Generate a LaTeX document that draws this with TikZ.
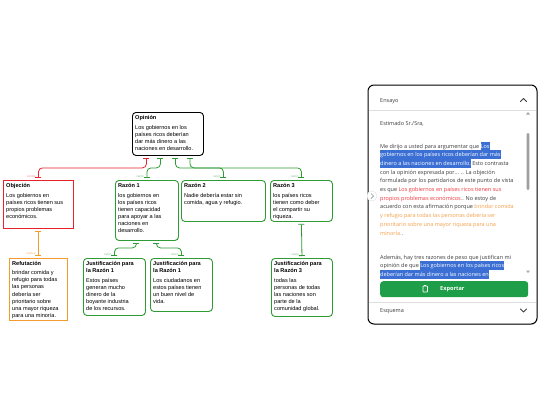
\documentclass[tikz,border=0pt]{standalone}
\usepackage{fontspec}
\setmainfont{Liberation Sans}
\newfontfamily\panelfont{Open Sans}
\usetikzlibrary{arrows.meta,shadows}

\definecolor{mmgreen}{HTML}{2E9B34}
\definecolor{mmred}{HTML}{E8222B}
\definecolor{mmorange}{HTML}{F59A2C}
\definecolor{hlblue}{HTML}{3B6FD4}
\definecolor{txtred}{HTML}{F0383C}
\definecolor{txtorange}{HTML}{F5A04A}
\definecolor{btngreen}{HTML}{1E9E48}
\definecolor{paneltext}{HTML}{3C3C3C}

% highlighted (selected) text span in the essay panel
\newcommand\hlspan[1]{{\setlength\fboxsep{0pt}\colorbox{hlblue}{\rule[-2.4pt]{0pt}{8.7pt}\textcolor{white}{#1}}}}

\tikzset{
  box/.style={draw, line width=0.9pt, inner sep=0pt, anchor=north west},
  rbox/.style={box, rounded corners=3.5pt},
  gbox/.style={rbox, draw=mmgreen},
  mmtext/.style={anchor=north west, inner sep=0pt, align=left,
    font=\fontsize{5.6}{7}\selectfont},
  link/.style={line width=0.8pt, rounded corners=4pt,
    arrows={Bar[width=6pt,line width=0.8pt]-Bar[width=6pt,line width=0.8pt]}},
  lbl/.style={anchor=south east, inner sep=0pt, xshift=-2.5pt,
    font=\fontsize{3}{3}\selectfont},
  ptext/.style={anchor=base west, inner sep=0pt, text=paneltext,
    font=\panelfont\fontsize{5.5}{8.7}\selectfont},
}

\begin{document}
\begin{tikzpicture}[x=1pt,y=-1pt]
\fill[white] (0,0) rectangle (540,405);
\useasboundingbox (0,0) rectangle (540,405);

% ---------- argument map boxes ----------
\node[rbox, minimum width=71pt, minimum height=43pt] (op) at (132,112) {};
\node[mmtext] (opt) at (135,115) {\textbf{Opinión}\\[3pt]Los gobiernos en los\\países ricos deberían\\dar más dinero a las\\naciones en desarrollo.};

\node[box, draw=mmred, minimum width=70pt, minimum height=48pt] (obj) at (3,180) {};
\node[mmtext] (objt) at (6,183) {\textbf{Objeción}\\[3pt]Los gobiernos en\\países ricos tienen sus\\propios problemas\\económicos.};

\node[box, draw=mmorange, minimum width=58pt, minimum height=62pt] (ref) at (9,258) {};
\node[mmtext, font=\fontsize{5.6}{7.2}\selectfont] (reft) at (12,261) {\textbf{Refutación}\\[2pt]brindar comida y\\refugio para todas\\las personas\\debería ser\\prioritario sobre\\una mayor riqueza\\para una minoría.};

\node[gbox, minimum width=63pt, minimum height=60pt] (r1) at (115,180) {};
\node[mmtext] (r1t) at (118,183) {\textbf{Razón 1}\\[3pt]los gobiernos en\\los países ricos\\tienen capacidad\\para apoyar a las\\naciones en\\desarrollo.};

\node[gbox, minimum width=84pt, minimum height=41pt] (r2) at (181,180) {};
\node[mmtext] (r2t) at (184,183) {\textbf{Razón 2}\\[3pt]Nadie debería estar sin\\comida, agua y refugio.};

\node[gbox, minimum width=62pt, minimum height=41pt] (r3) at (270,180) {};
\node[mmtext] (r3t) at (273,183) {\textbf{Razón 3}\\[3pt]los países ricos\\tienen como deber\\el compartir su\\riqueza.};

\node[gbox, minimum width=62pt, minimum height=57pt] (j1a) at (83,258) {};
\node[mmtext] (j1at) at (86,261) {\textbf{Justificación para}\\\textbf{la Razón 1}\\[3pt]Estos países\\generan mucho\\dinero de la\\boyante industria\\de los recursos.};

\node[gbox, minimum width=62pt, minimum height=53pt] (j1b) at (150,258) {};
\node[mmtext] (j1bt) at (153,261) {\textbf{Justificación para}\\\textbf{la Razón 1}\\[3pt]Los ciudadanos en\\estos países tienen\\un buen nivel de\\vida.};

\node[gbox, minimum width=61pt, minimum height=58pt] (j3) at (271,258) {};
\node[mmtext] (j3t) at (274,261) {\textbf{Justificación para}\\\textbf{la Razón 3}\\[3pt]todas las\\personas de todas\\las naciones son\\parte de la\\comunidad global.};

% ---------- connectors ----------
\draw[link, draw=mmred] ([xshift=-21.5pt,yshift=-2pt]op.south) -- ++(0,10)
  -| ([yshift=2pt]obj.north) node[lbl, text=mmred!55] {contra};
\draw[link, draw=mmgreen] ([xshift=-7.5pt,yshift=-2pt]op.south) -- ++(0,10)
  -| ([yshift=2pt]r1.north) node[lbl, text=mmgreen!60] {razón};
\draw[link, draw=mmgreen] ([xshift=7.5pt,yshift=-2pt]op.south) -- ++(0,10)
  -| ([yshift=2pt]r2.north) node[lbl, text=mmgreen!60] {razón};
\draw[link, draw=mmgreen] ([xshift=22pt,yshift=-2pt]op.south) -- ++(0,10)
  -| ([yshift=2pt]r3.north) node[lbl, text=mmgreen!60] {razón};
\draw[link, draw=mmgreen] ([xshift=-10.5pt,yshift=-2pt]r1.south) -- ++(0,5)
  -| ([yshift=2pt]j1a.north) node[lbl, text=mmgreen!60] {razón};
\draw[link, draw=mmgreen] ([xshift=9.5pt,yshift=-2pt]r1.south) -- ++(0,5)
  -| ([yshift=2pt]j1b.north) node[lbl, text=mmgreen!60] {razón};
\draw[link, draw=mmgreen] ([yshift=-2pt]r3.south) -- ([yshift=2pt]j3.north)
  node[lbl, text=mmgreen!60] {razón};
\draw[link, draw=mmorange] ([yshift=-2pt]obj.south) -- ([yshift=2pt]ref.north)
  node[lbl, text=mmorange!70] {réplica};

% ---------- essay panel ----------
\draw[line width=1pt, rounded corners=6pt, fill=white,
  drop shadow={opacity=0.25, shadow xshift=0.6pt, shadow yshift=-0.8pt}]
  (368,85) rectangle (537,324);
\node[ptext] (hdr) at (380,102) {Ensayo};
\draw[line width=0.9pt, line cap=round, line join=round, paneltext] (520.5,101.5) -- (523.5,98.5) -- (526.5,101.5);
\draw[gray!25, line width=0.6pt] (369,110) -- (536,110);

% scroll bar
\fill[gray!70] (526,114.5) -- (530,114.5) -- (528,112) -- cycle;
\fill[gray!75, rounded corners=1.2pt] (526.6,133) rectangle (529.4,190);
\fill[gray!70] (526,270.5) -- (530,270.5) -- (528,273) -- cycle;

% essay text
\begin{scope}
\clip (369,111) rectangle (524,278);
\node[ptext] (p0) at (380,125) {Estimado Sr./Sra,};
\node[ptext] (p1) at (380,148) {Me dirijo a usted para argumentar que \hlspan{Los}};
\node[ptext] (p2) at (380,156.7) {\hlspan{gobiernos en los países ricos deberían dar más}};
\node[ptext] (p3) at (380,165.4) {\hlspan{dinero a las naciones en desarrollo.} Esto contrasta};
\node[ptext] (p4) at (380,174.1) {con la opinión expresada por... .. La objeción};
\node[ptext] (p5) at (380,182.8) {formulada por los partidarios de este punto de vista};
\node[ptext] (p6) at (380,191.5) {es que \textcolor{txtred}{Los gobiernos en países ricos tienen sus}};
\node[ptext] (p7) at (380,200.2) {\textcolor{txtred}{propios problemas económicos.}. No estoy de};
\node[ptext] (p8) at (380,208.9) {acuerdo con esta afirmación porque \textcolor{txtorange}{brindar comida}};
\node[ptext] (p9) at (380,217.6) {\textcolor{txtorange}{y refugio para todas las personas debería ser}};
\node[ptext] (p10) at (380,226.3) {\textcolor{txtorange}{prioritario sobre una mayor riqueza para una}};
\node[ptext] (p11) at (380,235) {\textcolor{txtorange}{minoría.}.};
\node[ptext] (p12) at (380,259) {Además, hay tres razones de peso que justifican mi};
\node[ptext] (p13) at (380,267.7) {opinión de que \hlspan{Los gobiernos en los países ricos}};
\node[ptext] (p14) at (380,276.4) {\hlspan{deberían dar más dinero a las naciones en}};
\end{scope}

% side toggle
\filldraw[fill=white, draw=gray!20, line width=0.5pt] (372,196) circle (5);
\draw[gray!80, line width=0.7pt, line cap=round] (371,193.5) -- (373.5,196) -- (371,198.5);

% export button
\node[fill=btngreen, rounded corners=3pt, minimum width=148pt, minimum height=16pt,
  inner sep=0pt, anchor=north west] (btn) at (380,281) {};
\node[anchor=west, inner sep=0pt, text=white, font=\panelfont\bfseries\fontsize{5.6}{6}\selectfont] (btnt) at (440,289) {Exportar};
\draw[white, line width=0.6pt, rounded corners=0.6pt] (423,286) rectangle (427.5,292);
\draw[white, line width=0.6pt] (424.2,285) -- (426.3,285);

% outline footer
\draw[gray!25, line width=0.6pt] (369,302) -- (536,302);
\node[ptext] (ftr) at (380,312) {Esquema};
\draw[line width=0.9pt, line cap=round, line join=round, paneltext] (520.5,309) -- (523.5,312) -- (526.5,309);
\end{tikzpicture}
\end{document}
